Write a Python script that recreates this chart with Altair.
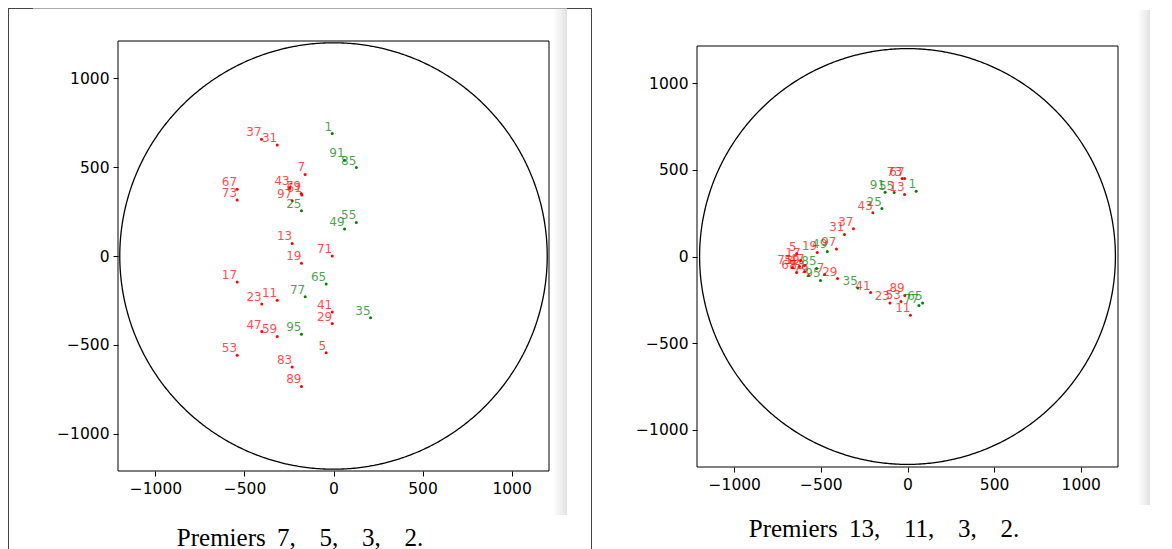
import math
import altair as alt
import pandas as pd

# ---------------- data ----------------
TICKS = [-1000, -500, 0, 500, 1000]
RAYON = 1200
COMPOSES = [1, 25, 35, 49, 55, 65, 77, 85, 91, 95]   # drawn in green, others (primes) in red

# Panel 1 : "Premiers 7, 5, 3, 2."
NOMBRES_1 = [37, 31, 1, 91, 85, 7, 67, 73, 43, 79, 61, 97, 25, 55, 49, 13, 71,
             19, 17, 65, 77, 23, 11, 41, 29, 35, 47, 59, 95, 53, 5, 83, 89]
X_1 = [-404, -316, -7, 62, 128, -159, -541, -541, -246, -181, -178, -232, -180, 128, 62, -232, -7,
       -180, -541, -41, -159, -403, -316, -7, -7, 208, -403, -316, -180, -541, -41, -232, -180]
Y_1 = [657, 624, 689, 539, 498, 459, 375, 315, 384, 352, 343, 311, 254, 189, 152, 71, 0,
       -41, -146, -157, -230, -270, -249, -315, -380, -348, -425, -453, -440, -558, -545, -624, -734]

# Panel 2 : "Premiers 13, 11, 3, 2."
NOMBRES_2 = [73, 67, 91, 55, 13, 1, 43, 25, 31, 37, 5, 19, 49, 97, 71, 61, 59,
             17, 47, 83, 79, 85, 7, 95, 29, 35, 41, 23, 53, 89, 11, 77, 65]
X_2 = [-31, -17, -129, -77, -17, 50, -200, -148, -364, -312, -640, -521, -463, -410, -664, -640, -623,
       -617, -594, -594, -571, -525, -479, -502, -404, -287, -213, -101, -38, -16, 17, 66, 87]
Y_2 = [450, 450, 371, 369, 358, 377, 252, 277, 127, 160, 16, 23, 29, 43, -63, -92, -58,
       -23, -52, -87, -110, -69, -104, -138, -127, -182, -208, -268, -260, -225, -339, -283, -268]

LEGENDES = ["Premiers\u2009 7,\u2002\u2009 5,\u2002\u2009 3,\u2002\u2009 2.",
            "Premiers\u2009 13,\u2002\u2009 11,\u2002\u2009 3,\u2002\u2009 2."]

TYPES = ["premier", "composé"]
COULEURS = ["red", "green"]


def cercle_df():
    n = 720
    rows = []
    for i in range(n + 1):
        t = 2 * math.pi * i / n
        rows.append({"i": i, "x": RAYON * math.cos(t), "y": RAYON * math.sin(t)})
    return pd.DataFrame(rows)


def rect(x, x2, y, y2, fill):
    return alt.Chart(alt.Data(values=[{}])).mark_rect(fill=fill, strokeWidth=0).encode(
        x=alt.value(x), x2=alt.value(x2), y=alt.value(y), y2=alt.value(y2))


def cadre(x, x2, y, y2):
    return alt.Chart(alt.Data(values=[{}])).mark_rect(
        filled=False, stroke="black", strokeWidth=1).encode(
        x=alt.value(x), x2=alt.value(x2), y=alt.value(y), y2=alt.value(y2))


GRAD = alt.LinearGradient(
    gradient="linear",
    stops=[alt.GradientStop(offset=0, color="#ffffff"), alt.GradientStop(offset=1, color="#e2e2e2")],
    x1=0, x2=1, y1=0, y2=0)


def panneau(nombres, xs, ys, w, h, xdom, ydom, legende, lx, ly, decos):
    df = pd.DataFrame({
        "n": nombres, "x": xs, "y": ys,
        "type": ["composé" if k in COMPOSES else "premier" for k in nombres],
    })

    def axis(pad):
        return alt.Axis(values=TICKS, format="d", labelExpr="replace(datum.label, '-', '\u2212')",
                        domain=False, grid=False, tickSize=5, tickColor="black", tickWidth=1,
                        labelFont="DejaVu Sans", labelFontSize=15.5, labelColor="black",
                        labelPadding=pad, title=None)
    xs_ = alt.X("x:Q", scale=alt.Scale(domain=xdom, nice=False, zero=False), axis=axis(5))
    ys_ = alt.Y("y:Q", scale=alt.Scale(domain=ydom, nice=False, zero=False), axis=axis(4))
    col = alt.Color("type:N", scale=alt.Scale(domain=TYPES, range=COULEURS), legend=None)

    cercle = alt.Chart(cercle_df()).mark_line(color="black", strokeWidth=1.3).encode(
        x=xs_, y=ys_, order="i:Q")
    points = alt.Chart(df).mark_circle(size=9, opacity=1).encode(x=xs_, y=ys_, color=col)
    textes = alt.Chart(df).mark_text(align="right", baseline="bottom", font="DejaVu Sans",
                                     fontSize=12, opacity=0.7).encode(
        x=xs_, y=ys_, text="n:N", color=col)
    titre = alt.Chart(alt.Data(values=[{}])).mark_text(
        text=legende, font="Liberation Serif", fontSize=25, align="center",
        baseline="alphabetic", color="black").encode(x=alt.value(lx), y=alt.value(ly))
    return alt.layer(*decos, cercle, points, textes, titre).properties(width=w, height=h)


# left panel: plot area 431 x 430, starting at the top of the row
gauche = panneau(NOMBRES_1, X_1, Y_1, 431, 430, [-1210, 1210], [-1210, 1210],
                 LEGENDES[0], 182, 505, [
                     rect(-110, -109, -33, 508, "#444444"),
                     rect(-110, -85, -33, -32, "#444444"),
                     rect(-85, 449, -33, -32, "#aaaaaa"),
                     rect(435, 449, -32, 474, GRAD),
                     cadre(0, 431, 0, 430),
                 ])

# right panel: plot frame 421 x 421, drawn 5 px below the top of the row
LIM2 = 1215
DECAL = 5
H2 = 421 + DECAL
ydom2 = [-LIM2, LIM2 + DECAL * (2 * LIM2) / 421]
droite = panneau(NOMBRES_2, X_2, Y_2, 421, H2, [-LIM2, LIM2], ydom2,
                 LEGENDES[1], 187, 496, [
                     rect(-130, -106, -33, -32, "#444444"),
                     rect(-106, -105, -33, 508, "#444444"),
                     rect(441, 453, -31, 464, GRAD),
                     cadre(0, 421, DECAL, H2),
                 ])

chart = alt.hconcat(gauche, droite, spacing=0).properties(padding=0).configure_view(
    stroke="transparent", strokeWidth=0)

chart.save("out.html", embed_options={"renderer": "svg", "actions": False})
